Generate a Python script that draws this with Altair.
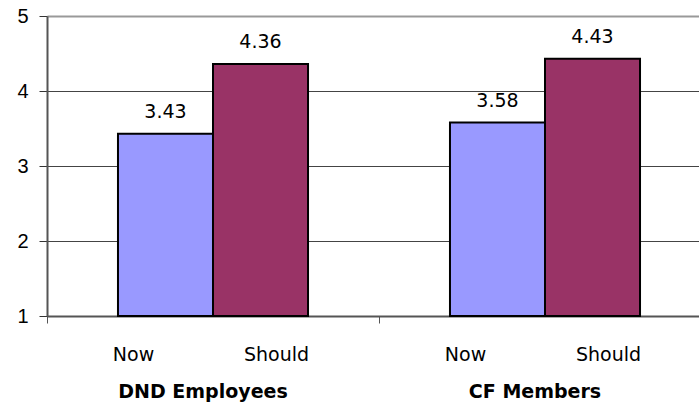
import altair as alt
import pandas as pd

groups = ["DND Employees", "DND Employees", "CF Members", "CF Members"]
periods = ["Now", "Should", "Now", "Should"]
values = [3.43, 4.36, 3.58, 4.43]
group_order = ["DND Employees", "CF Members"]
period_order = ["Now", "Should"]
colors = ["#9999FF", "#993366"]
y_ticks = [1, 2, 3, 4, 5]

df = pd.DataFrame({"group": groups, "period": periods, "value": values})
df["label"] = df["value"].map(lambda v: f"{v:.2f}")
gdf = pd.DataFrame({"group": group_order})

W, H = 652, 300
FONT = "Liberation Sans"
WIDE = "DejaVu Sans"

x_scale = alt.Scale(domain=group_order, range=[0, 664], paddingInner=0, paddingOuter=0)
x_enc = alt.X(
    "group:N",
    sort=group_order,
    scale=x_scale,
    axis=alt.Axis(
        title=None, labels=False, domainColor="#555", domainWidth=2,
        tickColor="#555", tickSize=7, tickBand="extent", tickWidth=1, grid=False,
    ),
)

bar_offset = alt.XOffset("period:N", sort=period_order,
                         scale=alt.Scale(domain=period_order, paddingInner=0, paddingOuter=0.747))

y_scale = alt.Scale(domain=[1, 5], nice=False, zero=False)
y_enc = alt.Y(
    "value:Q",
    scale=y_scale,
    axis=alt.Axis(
        values=y_ticks, title=None, tickSize=8, tickColor="#333", tickWidth=1,
        labelFontSize=20, labelFont=FONT, labelPadding=11, labelColor="black",
        domainColor="#555", domainWidth=2,
        gridColor={"condition": {"test": "datum.value === 5", "value": "#999999"}, "value": "#444444"},
        gridWidth={"condition": {"test": "datum.value === 5", "value": 2}, "value": 1},
    ),
)

bars = alt.Chart(df).mark_bar(stroke="black", strokeWidth=2).encode(
    x=x_enc,
    xOffset=bar_offset,
    y=y_enc,
    y2=alt.datum(1),
    color=alt.Color("period:N", scale=alt.Scale(domain=period_order, range=colors), legend=None),
)

value_labels = alt.Chart(df).mark_text(
    baseline="bottom", dy=-12, fontSize=19, font=WIDE, color="black"
).encode(
    x=x_enc,
    xOffset=bar_offset,
    y=y_enc,
    text="label:N",
)

now_labels = alt.Chart(df).transform_filter(alt.datum.period == "Now").mark_text(
    baseline="middle", fontSize=19, font=WIDE, color="black", dx=-32
).encode(
    x=x_enc,
    xOffset=bar_offset,
    y=alt.value(H + 39),
    text="period:N",
)

should_labels = alt.Chart(df).transform_filter(alt.datum.period == "Should").mark_text(
    baseline="middle", fontSize=19, font=WIDE, color="black", dx=16
).encode(
    x=x_enc,
    xOffset=bar_offset,
    y=alt.value(H + 39),
    text="period:N",
)

group_labels = alt.Chart(gdf).mark_text(
    baseline="middle", fontSize=19, fontWeight="bold", font=WIDE, color="black", dx=-10
).encode(
    x=x_enc,
    y=alt.value(H + 76),
    text="group:N",
)

chart = alt.layer(bars, value_labels, now_labels, should_labels, group_labels).properties(
    width=W, height=H,
    autosize="none",
    padding={"left": 47, "top": 16, "right": 0, "bottom": 89},
).configure_view(stroke=None).configure(background="white")

chart.save("out.html", embed_options={"renderer": "svg", "actions": False})
